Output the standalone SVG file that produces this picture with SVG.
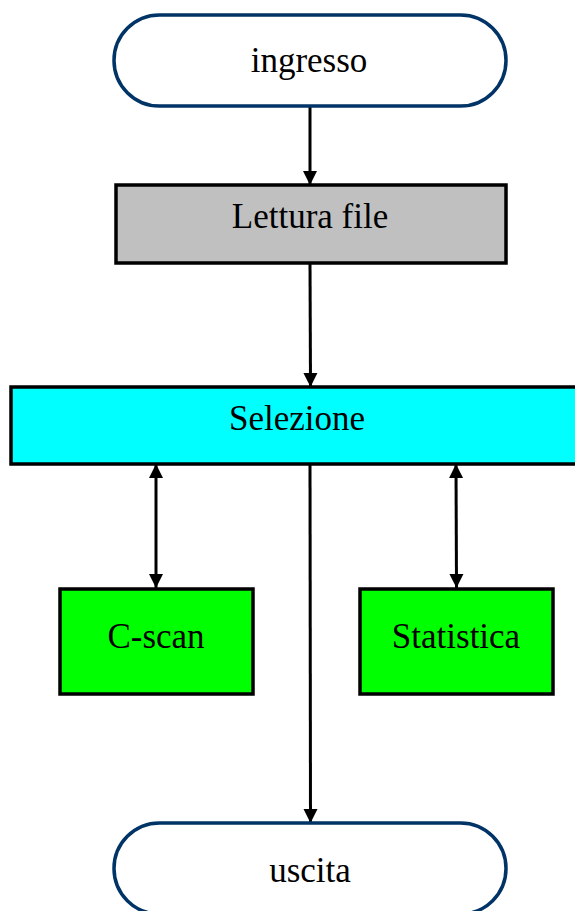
<svg xmlns="http://www.w3.org/2000/svg" width="575" height="911" viewBox="0 0 575 911">
<style>
.term{fill:#ffffff;stroke:#003366;stroke-width:3.5}
.box{stroke:#000000;stroke-width:3.5}
.lbl{font-family:"Liberation Serif","Times New Roman",serif;font-size:35px;fill:#000000;text-anchor:middle}
.con{stroke:#000000;stroke-width:3;fill:none}
</style>
<defs>
<marker id="ah" markerUnits="userSpaceOnUse" markerWidth="14" markerHeight="16" refX="14" refY="7" orient="auto-start-reverse" viewBox="0 0 14 14">
<path d="M0,0 L14,7 L0,14 Z" fill="#000000"/>
</marker>
</defs>
<rect width="575" height="911" fill="#ffffff"/>
<g id="connectors">
<line class="con" x1="310" y1="106" x2="310" y2="185" marker-end="url(#ah)"/>
<line class="con" x1="310" y1="263" x2="310.5" y2="387" marker-end="url(#ah)"/>
<line class="con" x1="156" y1="464" x2="156" y2="588" marker-start="url(#ah)" marker-end="url(#ah)"/>
<line class="con" x1="456" y1="464" x2="456.5" y2="588" marker-start="url(#ah)" marker-end="url(#ah)"/>
<line class="con" x1="310" y1="464" x2="310.5" y2="823" marker-end="url(#ah)"/>
</g>
<g id="ingresso">
<rect class="term" x="114" y="15" width="392" height="91" rx="45.5" ry="45.5"/>
<text class="lbl" x="309" y="72">ingresso</text>
</g>
<g id="lettura">
<rect class="box" x="116" y="185" width="390" height="78" fill="#c0c0c0"/>
<text class="lbl" x="310" y="228">Lettura file</text>
</g>
<g id="selezione">
<rect class="box" x="11" y="387" width="570" height="77" fill="#00ffff"/>
<text class="lbl" x="297" y="430">Selezione</text>
</g>
<g id="cscan">
<rect class="box" x="60" y="589" width="193" height="105" fill="#00ff00"/>
<text class="lbl" x="156" y="648">C-scan</text>
</g>
<g id="statistica">
<rect class="box" x="360" y="589" width="193" height="105" fill="#00ff00"/>
<text class="lbl" x="456" y="648">Statistica</text>
</g>
<g id="uscita">
<rect class="term" x="114" y="823" width="392" height="91" rx="45.5" ry="45.5"/>
<text class="lbl" x="310" y="882">uscita</text>
</g>
</svg>
